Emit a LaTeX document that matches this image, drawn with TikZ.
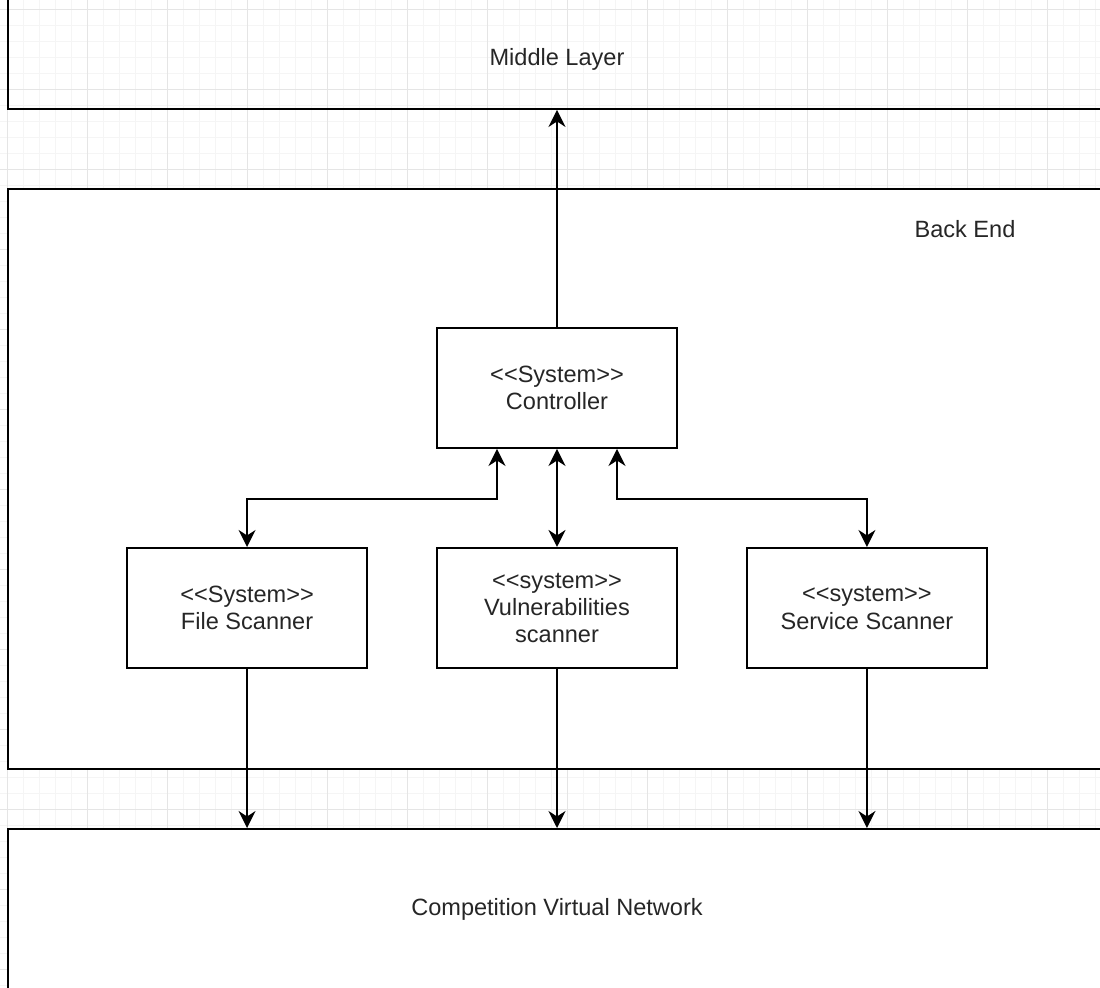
\documentclass[tikz,border=0pt]{standalone}
\usepackage{fontspec}
\setmainfont{Liberation Sans}[Ligatures=TeXOff]
\usepackage{xcolor}
\usetikzlibrary{arrows.meta,positioning,calc}

\begin{document}
\begin{tikzpicture}[
  node distance=1.96cm and 1.36cm,
  txt/.style={font=\fontsize{13.4}{15.6}\selectfont, text=black!85, align=center},
  layer/.style={draw, line width=1.1pt, fill=white, anchor=north west, minimum width=23cm},
  sys/.style={txt, draw, line width=1.1pt, fill=white, minimum width=4.8cm, minimum height=2.4cm, inner sep=0pt},
  link/.style={-{Stealth[length=3.4mm, width=3.4mm, inset=1.1mm]}, line width=1.1pt},
  both/.style={{Stealth[length=3.4mm, width=3.4mm, inset=1.1mm]}-{Stealth[length=3.4mm, width=3.4mm, inset=1.1mm]}, line width=1.1pt},
]
  \useasboundingbox (0,0) rectangle (22,-19.74);
  \clip (0,0) rectangle (22,-19.74);

  % background grid
  \begin{scope}[shift={(0.14,-0.18)}]
    \draw[gray!8, line width=0.4pt] (-0.64,-20.2) grid[step=0.32] (22.4,0.64);
    \draw[gray!20, line width=0.5pt] (-1.6,-20.8) grid[step=1.6] (22.4,1.6);
  \end{scope}

  % layers
  \node[layer, fill=none, minimum height=2.6cm] (mid) at (0.14,0.44) {};
  \node[layer, minimum height=11.6cm] (back) at (0.14,-3.76) {};
  \node[layer, minimum height=4cm] (net) at (0.14,-16.56) {};
  \node[txt] (midlbl) at (11.14,-1.18) {Middle Layer};
  \node[txt] (backlbl) at (19.3,-4.58) {Back End};
  \node[txt] (netlbl) at (11.14,-18.18) {Competition Virtual Network};

  % systems
  \node[sys] (ctrl) at (11.14,-7.76) {<<System>>\\Controller};
  \node[sys, below=of ctrl] (vuln) {<<system>>\\Vulnerabilities\\scanner};
  \node[sys, left=of vuln] (file) {<<System>>\\File Scanner};
  \node[sys, right=of vuln] (svc) {<<system>>\\Service Scanner};

  % connectors
  \draw[link] (ctrl.north) -- (ctrl.north |- mid.south);
  \draw[both] ([xshift=-1.2cm]ctrl.south) -- ++(0,-1) -| (file.north);
  \draw[both] (ctrl.south) -- (vuln.north);
  \draw[both] ([xshift=1.2cm]ctrl.south) -- ++(0,-1) -| (svc.north);
  \draw[link] (file.south) -- (file.south |- net.north);
  \draw[link] (vuln.south) -- (vuln.south |- net.north);
  \draw[link] (svc.south) -- (svc.south |- net.north);
\end{tikzpicture}
\end{document}
